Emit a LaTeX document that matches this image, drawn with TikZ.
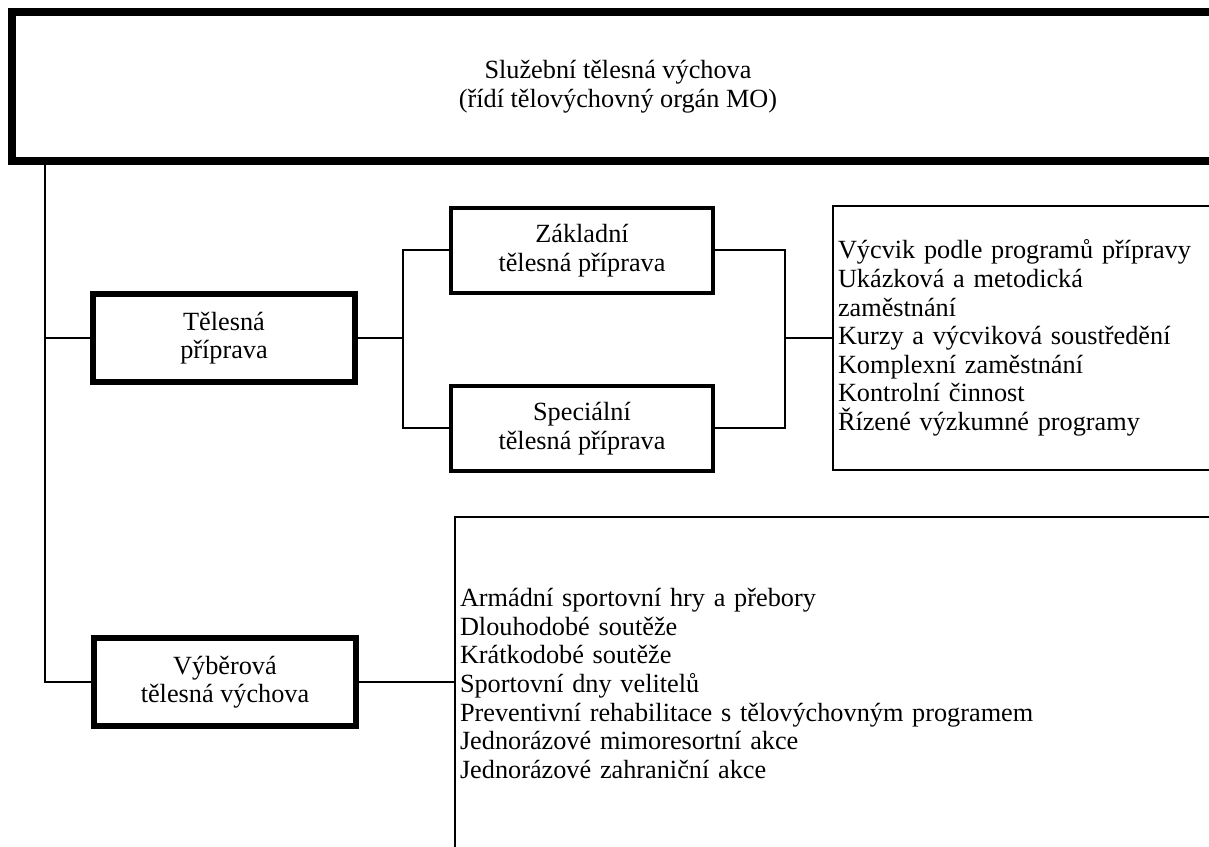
\documentclass[tikz,border=0pt]{standalone}
\usepackage{fontspec}
\setmainfont{Liberation Serif}
\newdimen\px \px=0.476pt
\begin{document}
\begin{tikzpicture}[x=0.476pt,y=-0.476pt,
		font=\fontsize{12.5}{13.6}\selectfont,
		heavybox/.style={draw,line width=8\px,align=center,inner sep=0pt},
		midbox/.style={draw,line width=6\px,align=center,minimum width=262\px,minimum height=88\px,inner sep=0pt},
		smallbox/.style={draw,line width=4\px,align=center,minimum width=262\px,minimum height=85\px,inner sep=0pt},
		listbox/.style={draw,line width=2\px,align=left,inner xsep=5\px,inner ysep=0pt},
		link/.style={line width=2\px}]
		\useasboundingbox (0,0) rectangle (1209,847);
		\clip (0,0) rectangle (1209,847);
		% top box
		\node[heavybox,minimum width=1212\px,minimum height=149\px] (sluz) at (618,86.5) {Služební tělesná výchova\\(řídí tělovýchovný orgán MO)};
		% branches
		\node[midbox] (tel) at (224,338) {Tělesná\\příprava};
		\node[smallbox] (zak) at (582,250.5) {Základní\\tělesná příprava};
		\node[smallbox] (spec) at (582,428.5) {Speciální\\tělesná příprava};
		\node[midbox] (vyb) at (225,682) {Výběrová\\tělesná výchova};
		% lists
		\node[listbox,text width=388\px,minimum height=264\px] (prog) at (1032,338) {Výcvik podle programů přípravy\\Ukázková a metodická\\zaměstnání\\Kurzy a výcviková soustředění\\Komplexní zaměstnání\\Kontrolní činnost\\Řízené výzkumné programy};
		\node[listbox,text width=785\px,minimum height=333\px] (akce) at (852.5,683.5) {Armádní sportovní hry a přebory\\Dlouhodobé soutěže\\Krátkodobé soutěže\\Sportovní dny velitelů\\Preventivní rehabilitace s tělovýchovným programem\\Jednorázové mimoresortní akce\\Jednorázové zahraniční akce};
		% lines
		\coordinate (spine) at (45,0);
		\coordinate (forkL) at (403,0);
		\coordinate (forkR) at (785,0);
		\draw[link] (sluz.south -| spine) |- (vyb.west);
		\draw[link] (spine |- tel.west) -- (tel.west);
		\draw[link] (tel.east) -- (tel.east -| forkL);
		\draw[link] (zak.west) -- (zak.west -| forkL) -- (spec.west -| forkL) -- (spec.west);
		\draw[link] (zak.east) -- (zak.east -| forkR) -- (spec.east -| forkR) -- (spec.east);
		\draw[link] (prog.west -| forkR) -- (prog.west);
		\draw[link] (vyb.east) -- (vyb.east -| akce.west);
\end{tikzpicture}
\end{document}
